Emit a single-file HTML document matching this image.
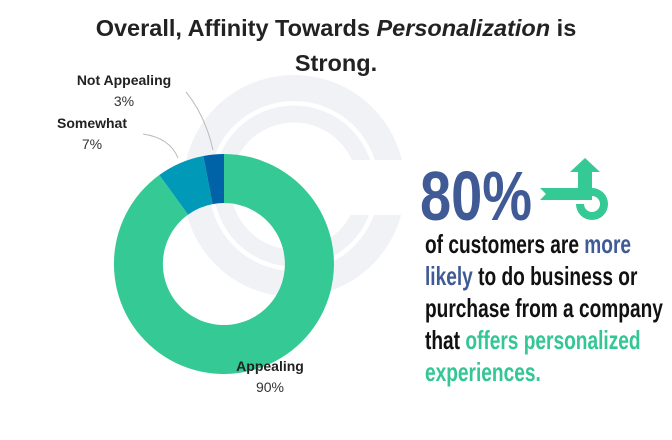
<!DOCTYPE html>
<html><head><meta charset="utf-8"><style>
body{margin:0;width:672px;height:440px;background:#fff;overflow:hidden;position:relative;font-family:"Liberation Sans",sans-serif}
.t{position:absolute;left:0;width:672px;text-align:center;font-weight:bold;font-size:23.5px;color:#222}
.l{position:absolute;text-align:center;font-size:14px;color:#333;line-height:21px}
.l b{color:#222}
.c{position:absolute;left:425px;font-family:"Liberation Sans Narrow","Liberation Sans",sans-serif;font-weight:bold;color:#111;font-size:26px;white-space:nowrap;transform-origin:0 0;transform:scaleX(0.735);line-height:32px}
.b{color:#3f5a95}.g{color:#34c695}
</style></head><body>
<svg width="672" height="440" style="position:absolute;left:0;top:0">
<defs><mask id="m"><rect width="672" height="440" fill="#fff"/><rect x="330" y="160" width="120" height="55" fill="#000"/></mask></defs>
<g mask="url(#m)" fill="none" stroke="#f0f2f6">
<circle cx="294" cy="186" r="98" stroke-width="26"/>
<circle cx="294" cy="186" r="72" stroke-width="17"/>
</g>
<g transform="translate(224,264)">
<path d="M0,-110 A110,110 0 1 1 -64.7,-89 L-35.9,-49.4 A61,61 0 1 0 0,-61 Z" fill="#34c995"/>
<path d="M-64.7,-89 A110,110 0 0 1 -20.6,-108 L-11.4,-59.9 A61,61 0 0 0 -35.9,-49.4 Z" fill="#009ab8"/>
<path d="M-20.6,-108 A110,110 0 0 1 0,-110 L0,-61 A61,61 0 0 0 -11.4,-59.9 Z" fill="#0063a8"/>
</g>
<path d="M143,134 Q170,138 178,158" stroke="#bbb" fill="none"/>
<path d="M186,92 Q205,115 213,150" stroke="#bbb" fill="none"/>
<path d="M540,188 L578,188 L578,172 L570,172 L585,158 L600,172 L592,172 L592,188 A16,16 0 1 1 576,204 L584,204 A8,8 0 1 0 592,196 L592,200 L578,200 L578,200 L540,200 L546,194 Z" fill="#34c995"/>
</svg>
<div class="t" style="top:15px">Overall, Affinity Towards <i>Personalization</i> is</div>
<div class="t" style="top:50px">Strong.</div>
<div class="l" style="left:64px;top:70px;width:120px"><b>Not Appealing</b><br>3%</div>
<div class="l" style="left:38px;top:113px;width:108px"><b>Somewhat</b><br>7%</div>
<div class="l" style="left:222px;top:356px;width:96px"><b>Appealing</b><br>90%</div>
<div class="c" style="top:160px;font-size:70px;line-height:72px;color:#3f5a95;left:420px;transform:scaleX(0.8)">80%</div>
<div class="c" style="top:228px">of customers are <span class="b">more</span></div>
<div class="c" style="top:260px"><span class="b">likely</span> to do business or</div>
<div class="c" style="top:292px">purchase from a company</div>
<div class="c" style="top:324px">that <span class="g">offers personalized</span></div>
<div class="c" style="top:356px"><span class="g">experiences.</span></div>
</body></html>
